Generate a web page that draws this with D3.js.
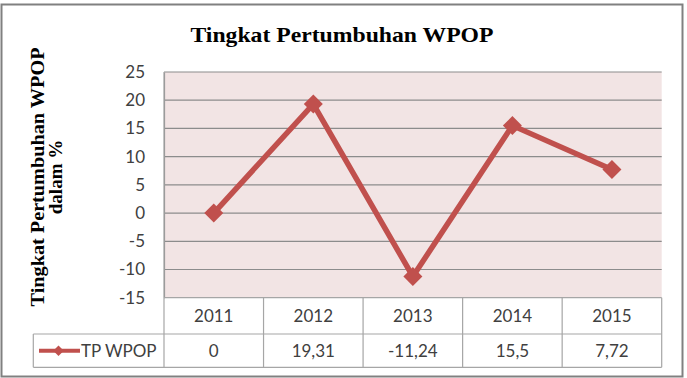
<!DOCTYPE html>
<html>
<head>
<meta charset="utf-8">
<script src="https://cdn.jsdelivr.net/npm/d3@7"></script>
<style>
  body { margin: 0; background: #fff; }
  #chart { width: 687px; height: 378px; }
</style>
</head>
<body>
<div id="chart"></div>
<script>
const years = ["2011", "2012", "2013", "2014", "2015"];
const values = [0, 19.31, -11.24, 15.5, 7.72];
const valueLabels = ["0", "19,31", "-11,24", "15,5", "7,72"];
const yTicks = [-15, -10, -5, 0, 5, 10, 15, 20, 25];
const seriesName = "TP WPOP";
const chartTitle = "Tingkat Pertumbuhan WPOP";
const yTitle = ["Tingkat Pertumbuhan WPOP", "dalam %"];

const W = 687, H = 378;
const red = "#C0504D";
const tfont = "Lato, 'Open Sans', sans-serif";
const fs = 17;

const svg = d3.select("#chart").append("svg")
    .attr("width", W).attr("height", H);

// outer frame
svg.append("rect")
    .attr("x", 1.5).attr("y", 4.5)
    .attr("width", 681).attr("height", 372)
    .attr("fill", "#fff").attr("stroke", "#808080").attr("stroke-width", 2);

const x = d3.scaleBand().domain(years).range([164, 661.7]);
const y = d3.scaleLinear().domain([-15, 25]).range([297.7, 72]);

// plot background
svg.append("rect")
    .attr("x", x.range()[0]).attr("y", y(25))
    .attr("width", x.range()[1] - x.range()[0])
    .attr("height", y(-15) - y(25))
    .attr("fill", "#F2E4E4");

// gridlines
svg.append("g").selectAll("line")
    .data(yTicks.filter(d => d > -15))
    .join("line")
    .attr("x1", x.range()[0]).attr("x2", x.range()[1])
    .attr("y1", d => y(d)).attr("y2", d => y(d))
    .attr("stroke", "#8C8C8C").attr("stroke-width", 1.2);

// y axis
const yAxis = svg.append("g")
    .attr("transform", `translate(${x.range()[0]},0)`)
    .call(d3.axisLeft(y).tickValues(yTicks).tickSize(0).tickPadding(19)
        .tickFormat(d => String(d)));
yAxis.select(".domain").attr("stroke", "#8C8C8C").attr("stroke-width", 1.2);
yAxis.selectAll("text")
    .attr("font-family", tfont)
    .attr("font-size", fs).attr("fill", "#404040");

// data table
const rowTop = 297.7, rowMid = 334, rowBot = 367.3, legendLeft = 33.3;
const tbl = svg.append("g").attr("stroke", "#A6A6A6").attr("stroke-width", 1.2);
tbl.append("line").attr("x1", x.range()[0]).attr("x2", x.range()[1]).attr("y1", rowTop).attr("y2", rowTop);
tbl.append("line").attr("x1", legendLeft).attr("x2", x.range()[1]).attr("y1", rowMid).attr("y2", rowMid);
tbl.append("line").attr("x1", legendLeft).attr("x2", x.range()[1]).attr("y1", rowBot).attr("y2", rowBot);
tbl.append("line").attr("x1", legendLeft).attr("x2", legendLeft).attr("y1", rowMid).attr("y2", rowBot);
tbl.selectAll(".v")
    .data(years.map(d => x(d)).concat([x.range()[1]]))
    .join("line").attr("class", "v")
    .attr("x1", d => d).attr("x2", d => d)
    .attr("y1", (d, i) => i === 0 ? y(25) : rowTop).attr("y2", rowBot);

svg.append("g").selectAll("text")
    .data(years).join("text")
    .attr("x", d => x(d) + x.bandwidth() / 2).attr("y", 322)
    .attr("text-anchor", "middle")
    .attr("font-family", tfont).attr("font-size", fs).attr("fill", "#404040")
    .text(d => d);
svg.append("g").selectAll("text")
    .data(valueLabels).join("text")
    .attr("x", (d, i) => x(years[i]) + x.bandwidth() / 2).attr("y", 356.5)
    .attr("text-anchor", "middle")
    .attr("font-family", tfont).attr("font-size", fs).attr("fill", "#404040")
    .text(d => d);

// legend key
const ly = 350.7;
svg.append("line").attr("x1", 39).attr("x2", 80).attr("y1", ly).attr("y2", ly)
    .attr("stroke", red).attr("stroke-width", 4);
svg.append("path").attr("d", d3.symbol(d3.symbolDiamond2, 70)())
    .attr("transform", `translate(58.5,${ly})`).attr("fill", red);
svg.append("text").attr("x", 81).attr("y", 356.5)
    .attr("font-family", tfont).attr("font-size", fs).attr("fill", "#404040")
    .text(seriesName);

// series line
const cx = d => x(d) + x.bandwidth() / 2;
svg.append("path")
    .datum(values)
    .attr("fill", "none").attr("stroke", red).attr("stroke-width", 5.5)
    .attr("stroke-linejoin", "miter")
    .attr("d", d3.line().x((d, i) => cx(years[i])).y(d => y(d)));
svg.append("g").selectAll("path")
    .data(values).join("path")
    .attr("d", d3.symbol(d3.symbolDiamond2, 230)())
    .attr("transform", (d, i) => `translate(${cx(years[i])},${y(d)})`)
    .attr("fill", red);

// title
svg.append("text")
    .attr("x", 342).attr("y", 42).attr("text-anchor", "middle")
    .attr("font-family", "'Liberation Serif', 'Times New Roman', serif")
    .attr("font-weight", "bold").attr("font-size", 22).attr("fill", "#000")
    .attr("textLength", 303).attr("lengthAdjust", "spacingAndGlyphs")
    .text(chartTitle);

// y axis title
const yt = svg.append("text")
    .attr("transform", "translate(0,177) rotate(-90)")
    .attr("text-anchor", "middle")
    .attr("font-family", "'Liberation Serif', 'Times New Roman', serif")
    .attr("font-weight", "bold").attr("font-size", 19).attr("fill", "#000");
yt.append("tspan").attr("x", 0).attr("y", 44)
    .attr("textLength", 259).attr("lengthAdjust", "spacingAndGlyphs")
    .text(yTitle[0]);
yt.append("tspan").attr("x", 0).attr("y", 62).text(yTitle[1]);
</script>
</body>
</html>
